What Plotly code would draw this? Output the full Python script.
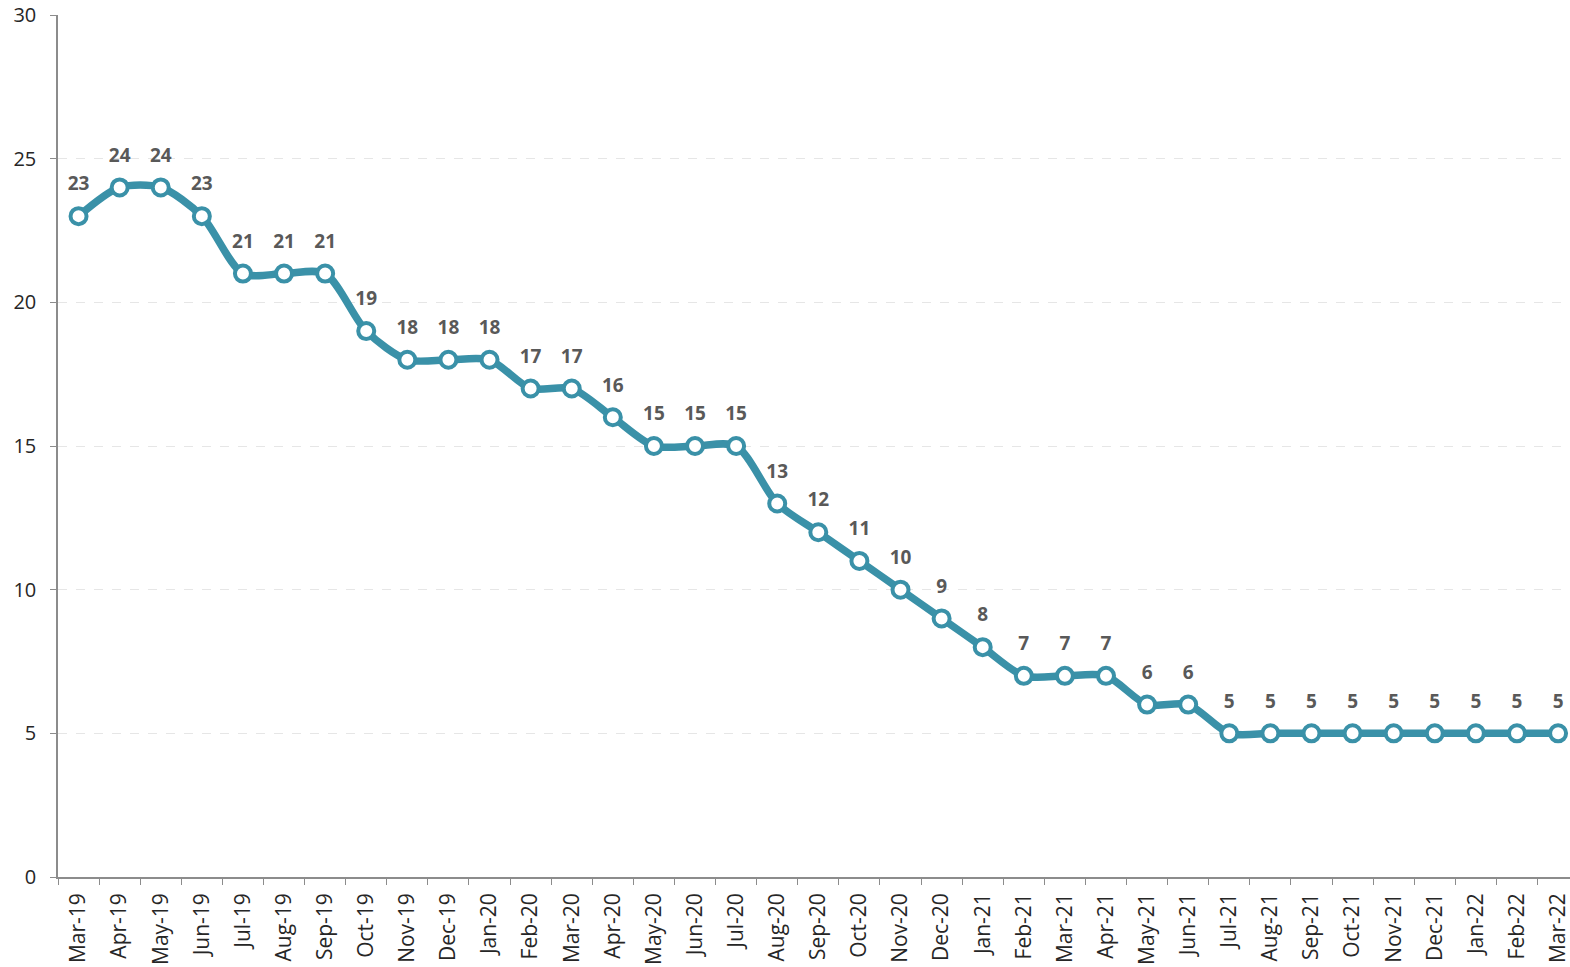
import plotly.graph_objects as go

months = ["Mar-19","Apr-19","May-19","Jun-19","Jul-19","Aug-19","Sep-19","Oct-19","Nov-19","Dec-19",
          "Jan-20","Feb-20","Mar-20","Apr-20","May-20","Jun-20","Jul-20","Aug-20","Sep-20","Oct-20",
          "Nov-20","Dec-20","Jan-21","Feb-21","Mar-21","Apr-21","May-21","Jun-21","Jul-21","Aug-21",
          "Sep-21","Oct-21","Nov-21","Dec-21","Jan-22","Feb-22","Mar-22"]
values = [23,24,24,23,21,21,21,19,18,18,
          18,17,17,16,15,15,15,13,12,11,
          10,9,8,7,7,7,6,6,5,5,
          5,5,5,5,5,5,5]

teal = "#3a91a8"
fig = go.Figure()
fig.add_trace(go.Scatter(
    x=months, y=values, mode="lines+markers",
    line=dict(color=teal, width=7.5, shape="spline", smoothing=0.8),
    marker=dict(size=16, color="white", line=dict(color=teal, width=4)),
    cliponaxis=False, showlegend=False, hoverinfo="skip",
))
# data labels: invisible larger marker pushes the text up
fig.add_trace(go.Scatter(
    x=months, y=values, mode="markers+text",
    marker=dict(size=32, color="rgba(0,0,0,0)"),
    text=[str(v) for v in values], textposition="top center",
    textfont=dict(family="Open Sans", size=19, color="#595959", weight="bold"),
    cliponaxis=False, showlegend=False, hoverinfo="skip",
))
fig.update_layout(
    width=1570, height=967,
    margin=dict(l=58, r=0, t=15, b=90),
    plot_bgcolor="white", paper_bgcolor="white",
    font=dict(family="Open Sans", color="#262626"),
)
fig.update_xaxes(
    type="category", range=[-0.5, 36.29], automargin=False,
    showline=True, linecolor="#8c8c8c", linewidth=1.5,
    ticks="outside", tickson="boundaries", ticklen=6, tickcolor="#8c8c8c",
    tickangle=-90, tickfont=dict(size=21, color="#262626"), showgrid=False,
    ticklabeloverflow="allow", ticklabelstandoff=6,
)
fig.update_yaxes(
    range=[0, 30], tickvals=[0,5,10,15,20,25,30], automargin=False,
    showline=True, linecolor="#8c8c8c", linewidth=1.5,
    ticks="outside", ticklen=6, tickcolor="#8c8c8c",
    tickfont=dict(size=20, color="#262626"),
    showgrid=True, gridcolor="#e6e6e6", griddash="dash", gridwidth=1,
    zeroline=False, ticklabeloverflow="allow", ticklabelstandoff=10,
)
fig.write_html("out.html", config={"displayModeBar": False},
               post_script="document.body.style.margin='0';document.body.style.overflow='hidden';")
